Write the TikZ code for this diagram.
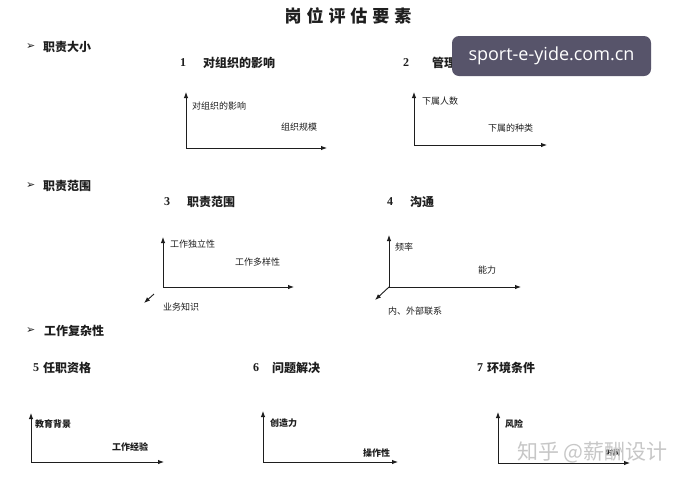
\documentclass[tikz,border=0pt]{standalone}
\usepackage{fontspec}
\setmainfont{Liberation Serif}
\newfontfamily\cjk{Noto Sans CJK SC}
\newfontfamily\dejavu{DejaVu Sans}
\newfontfamily\wmfont{Open Sans}
\usetikzlibrary{arrows.meta}
\definecolor{wmbox}{HTML}{57546A}
\definecolor{ink}{HTML}{1E1E1E}
\tikzset{
  axis/.style={draw=ink, line width=0.9pt, -{Latex[length=6pt,width=4.5pt]}},
  lbl/.style={font=\cjk\fontsize{9}{9}\selectfont, anchor=west, inner sep=0pt, text=ink},
  blbl/.style={font=\cjk\bfseries\fontsize{9}{9}\selectfont, anchor=west, inner sep=0pt, text=ink},
  ttl/.style={font=\cjk\bfseries\fontsize{12}{12}\selectfont, anchor=west, inner sep=0pt, text=ink},
  num/.style={font=\bfseries\fontsize{12}{12}\selectfont, anchor=west, inner sep=0pt, text=ink},
  bul/.style={font=\dejavu\fontsize{11}{11}\selectfont, anchor=west, inner sep=0pt, text=ink},
}
\begin{document}
\begin{tikzpicture}[x=1pt,y=-1pt]
\fill[white] (0,0) rectangle (685,483);
\useasboundingbox (0,0) rectangle (685,483);

% main title
\node[font=\cjk\bfseries\fontsize{17}{17}\selectfont, inner sep=0pt, text=ink] (title) at (348,16)
  {岗\hspace{5pt}位\hspace{5pt}评\hspace{5pt}估\hspace{5pt}要\hspace{5pt}素};

% section headings
\node[bul] (b1) at (26,47) {➢};
\node[ttl] (s1) at (43,47) {职责大小};
\node[bul] (b2) at (26,186) {➢};
\node[ttl] (s2) at (43,186) {职责范围};
\node[bul] (b3) at (26,331) {➢};
\node[ttl] (s3) at (44,331) {工作复杂性};

% chart titles
\node[num] (n1) at (180,63) {1};
\node[ttl] (t1) at (203,63) {对组织的影响};
\node[num] (n2) at (403,63) {2};
\node[ttl] (t2) at (432,63) {管理};
\node[num] (n3) at (164,202) {3};
\node[ttl] (t3) at (187,202) {职责范围};
\node[num] (n4) at (387,202) {4};
\node[ttl] (t4) at (410,202) {沟通};
\node[num] (n5) at (33,368) {5};
\node[ttl] (t5) at (43,368) {任职资格};
\node[num] (n6) at (253,368) {6};
\node[ttl] (t6) at (272,368) {问题解决};
\node[num] (n7) at (477,368) {7};
\node[ttl] (t7) at (487,368) {环境条件};

% chart 1
\coordinate (o1) at (186,148); \coordinate (y1) at (186,92); \coordinate (x1) at (327,148);
\draw[axis] (o1) -- (y1);
\draw[axis] (o1) -- (x1);
\node[lbl] (l1a) at (192,106) {对组织的影响};
\node[lbl] (l1b) at (281,127) {组织规模};

% chart 2
\coordinate (o2) at (414,145); \coordinate (y2) at (414,92); \coordinate (x2) at (547,145);
\draw[axis] (o2) -- (y2);
\draw[axis] (o2) -- (x2);
\node[lbl] (l2a) at (422,101) {下属人数};
\node[lbl] (l2b) at (488,128) {下属的种类};

% chart 3
\coordinate (o3) at (163,287); \coordinate (y3) at (163,237); \coordinate (x3) at (294,287);
\coordinate (d3s) at (154,294); \coordinate (d3e) at (144,303);
\draw[axis] (o3) -- (y3);
\draw[axis] (o3) -- (x3);
\draw[axis] (d3s) -- (d3e);
\node[lbl] (l3a) at (170,244) {工作独立性};
\node[lbl] (l3b) at (235,262) {工作多样性};
\node[lbl] (l3c) at (163,307) {业务知识};

% chart 4
\coordinate (o4) at (389,287); \coordinate (y4) at (389,235); \coordinate (x4) at (521,287);
\coordinate (d4e) at (375,300);
\draw[axis] (o4) -- (y4);
\draw[axis] (o4) -- (x4);
\draw[axis] (o4) -- (d4e);
\node[lbl] (l4a) at (395,247) {频率};
\node[lbl] (l4b) at (478,270) {能力};
\node[lbl] (l4c) at (388,311) {内、外部联系};

% chart 5
\coordinate (o5) at (31,462); \coordinate (y5) at (31,413); \coordinate (x5) at (164,462);
\draw[axis] (o5) -- (y5);
\draw[axis] (o5) -- (x5);
\node[blbl] (l5a) at (35,424) {教育背景};
\node[blbl] (l5b) at (112,447) {工作经验};

% chart 6
\coordinate (o6) at (263,462); \coordinate (y6) at (263,411); \coordinate (x6) at (398,462);
\draw[axis] (o6) -- (y6);
\draw[axis] (o6) -- (x6);
\node[blbl] (l6a) at (270,423) {创造力};
\node[blbl] (l6b) at (363,453) {操作性};

% chart 7
\coordinate (o7) at (498,463); \coordinate (y7) at (498,412); \coordinate (x7) at (630,463);
\draw[axis] (o7) -- (y7);
\draw[axis] (o7) -- (x7);
\node[blbl] (l7a) at (505,424) {风险};
\node[blbl, font=\cjk\bfseries\fontsize{7}{7}\selectfont] (l7b) at (606,453) {时间};

% watermarks
\node[font=\cjk\fontsize{21}{21}\selectfont, text=black!22, anchor=west, inner sep=0pt] (wm2) at (517,452) {知乎 @薪酬设计};
\node[fill=wmbox, rounded corners=7pt, minimum width=199pt, minimum height=40pt, inner sep=0pt,
      font=\wmfont\fontsize{18}{18}\selectfont, text=white] (wm1) at (551.5,56) {sport-e-yide.com.cn};
\end{tikzpicture}
\end{document}
